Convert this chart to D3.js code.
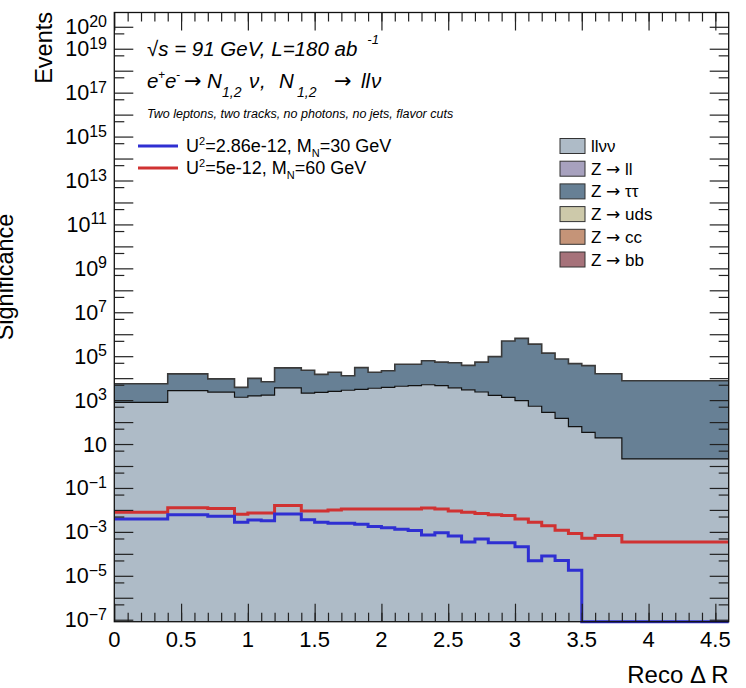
<!DOCTYPE html>
<html>
<head>
<meta charset="utf-8">
<script src="https://cdn.jsdelivr.net/npm/d3@7"></script>
<style>
  body { margin: 0; background: white; }
  text { font-family: "Liberation Sans", Arial, sans-serif; }
  .arrow { font-family: "DejaVu Sans", sans-serif; font-style: normal; }
</style>
</head>
<body>
<svg></svg>
<script>
// bins are 0.1 wide, 0 .. 4.6
var binLow = d3.range(46).map(function(i) { return i / 10; });
var xMaxEdge = 4.6;

// stacked backgrounds (events / bin)
var llvv = [790, 790, 790, 790, 2700, 2700, 2700, 2300, 2300, 1350,
            1550, 1700, 3600, 3600, 2100, 2240, 2510, 2820, 3090, 3470,
            3800, 4270, 4570, 5010, 4570, 3630, 2950, 2340, 1660, 1320,
            950, 525, 275, 148, 62, 34, 19, 19, 2.1, 2.1,
            2.1, 2.1, 2.1, 2.1, 2.1, 2.1];
var ztautau = [4800, 4800, 4800, 4800, 13000, 13000, 13000, 7000, 7000, 2450,
               8200, 5200, 25900, 25900, 20800, 12600, 16100, 10100, 27100, 15200,
               18100, 38400, 38100, 56600, 49100, 46500, 35100, 51400, 93800, 488000,
               645000, 354000, 138000, 74000, 45600, 37100, 15800, 15800, 7580, 7580,
               7580, 7580, 7580, 7580, 7580, 7580];

// signals
var sigM30 = [0.0039, 0.0039, 0.0039, 0.0039, 0.0060, 0.0060, 0.0060, 0.0052, 0.0052, 0.00275,
              0.0035, 0.0032, 0.0065, 0.0065, 0.0036, 0.00275, 0.00245, 0.00245, 0.0022, 0.00178,
              0.00155, 0.00132, 0.00115, 0.00072, 0.00091, 0.00065, 0.00035, 0.00047, 0.00032, 0.00032,
              0.00021, 0.000049, 0.000079, 0.00005, 0.0000178, 0, 0, 0, 0, 0,
              0, 0, 0, 0, 0, 0];
var sigM60 = [0.0078, 0.0078, 0.0078, 0.0078, 0.0126, 0.0126, 0.0126, 0.0115, 0.0115, 0.0063,
              0.0072, 0.0072, 0.0158, 0.0158, 0.0089, 0.0089, 0.0100, 0.0110, 0.0110, 0.0110,
              0.0110, 0.0110, 0.0110, 0.0123, 0.0110, 0.0089, 0.0078, 0.0068, 0.0060, 0.0055,
              0.0039, 0.00275, 0.0019, 0.0012, 0.00085, 0.00051, 0.00068, 0.00068, 0.00035, 0.00035,
              0.00035, 0.00035, 0.00035, 0.00035, 0.00035, 0.00035];

var xTickLabels = [0, 0.5, 1, 1.5, 2, 2.5, 3, 3.5, 4, 4.5];
var yLabelExp = [20, 19, 17, 15, 13, 11, 9, 7, 5, 3, 1, -1, -3, -5, -7];

var legendNames = ["llνν", "Z → ll", "Z → ττ", "Z → uds", "Z → cc", "Z → bb"];
var legendColors = ["#aebbc7", "#a7a1be", "#678095", "#cdc9aa", "#c59478", "#a6727a"];

var svgWidth = 746, svgHeight = 688;
var padL = 114.3, padR = 728.7, padT = 12.5, padB = 621.7;

var svg = d3.select('svg')
    .attr('width', svgWidth)
    .attr('height', svgHeight);

svg.append("rect")
    .attr("width", "100%")
    .attr("height", "100%")
    .attr("fill", "white");

var xScale = d3.scaleLinear()
    .domain([0, xMaxEdge])
    .range([padL, padR]);

var yScale = d3.scaleLog()
    .domain([Math.pow(10, -7.09), Math.pow(10, 20.65)])
    .range([padB, padT])
    .clamp(true);

// stack
var rows = binLow.map(function(b, i) { return {x: b, llvv: llvv[i], ztautau: ztautau[i]}; });
var stacked = d3.stack().keys(["llvv", "ztautau"])(rows);

function stepPts(layer) {
    var pts = layer.map(function(d) { return {x: d.data.x, y0: d[0], y1: d[1]}; });
    var last = pts[pts.length - 1];
    pts.push({x: xMaxEdge, y0: last.y0, y1: last.y1});
    return pts;
}

var area = d3.area()
    .curve(d3.curveStepAfter)
    .x(function(d) { return xScale(d.x); })
    .y0(function(d) { return yScale(d.y0); })
    .y1(function(d) { return yScale(d.y1); });

var topLine = d3.line()
    .curve(d3.curveStepAfter)
    .x(function(d) { return xScale(d.x); })
    .y(function(d) { return yScale(d.y1); });

var plot = svg.append("g");

// draw tautau (top) then llvv
plot.append("path")
    .attr("d", area(stepPts(stacked[1])))
    .attr("fill", legendColors[2]);
plot.append("path")
    .attr("d", area(stepPts(stacked[0])))
    .attr("fill", legendColors[0]);
plot.append("path")
    .attr("d", topLine(stepPts(stacked[1])))
    .attr("fill", "none")
    .style("stroke", "#3a3a3a")
    .style("stroke-width", "1.6");
plot.append("path")
    .attr("d", topLine(stepPts(stacked[0])))
    .attr("fill", "none")
    .style("stroke", "#111")
    .style("stroke-width", "1.2");

// signals
var sigLine = d3.line()
    .curve(d3.curveStepAfter)
    .x(function(d) { return xScale(d.x); })
    .y(function(d) { return yScale(d.v); });

function sigPts(arr) {
    var pts = binLow.map(function(b, i) { return {x: b, v: arr[i]}; });
    pts.push({x: xMaxEdge, v: arr[arr.length - 1]});
    return pts;
}

plot.append("path")
    .attr("d", sigLine(sigPts(sigM60)))
    .attr("fill", "none")
    .style("stroke", "#d03232")
    .style("stroke-width", "3");
plot.append("path")
    .attr("d", sigLine(sigPts(sigM30)))
    .attr("fill", "none")
    .style("stroke", "#2f2fd2")
    .style("stroke-width", "3");

// axes ticks
var majorX = d3.range(0, 4.6, 0.5);
var minorX = d3.range(46).map(function(i) { return i / 10; }).filter(function(v) { return v > 0; });

function styleAxis(g) {
    g.select(".domain").remove();
    g.selectAll("text").remove();
    g.selectAll("line").style("stroke", "#222").style("stroke-width", "1.2");
}

svg.append("g")
    .attr("transform", "translate(0," + padB + ")")
    .call(d3.axisBottom(xScale).tickValues(minorX).tickSize(-9))
    .call(styleAxis);
svg.append("g")
    .attr("transform", "translate(0," + padB + ")")
    .call(d3.axisBottom(xScale).tickValues(majorX).tickSize(-18))
    .call(styleAxis);
svg.append("g")
    .attr("transform", "translate(0," + padT + ")")
    .call(d3.axisTop(xScale).tickValues(minorX).tickSize(-9))
    .call(styleAxis);
svg.append("g")
    .attr("transform", "translate(0," + padT + ")")
    .call(d3.axisTop(xScale).tickValues(majorX).tickSize(-18))
    .call(styleAxis);

var decades = d3.range(-7, 21).map(function(e) { return Math.pow(10, e); });
var halfDecades = d3.range(-6, 21).map(function(e) { return 0.5 * Math.pow(10, e); });

[[padL, d3.axisLeft], [padR, d3.axisRight]].forEach(function(s) {
    svg.append("g")
        .attr("transform", "translate(" + s[0] + ",0)")
        .call(s[1](yScale).tickValues(decades).tickSize(-19))
        .call(styleAxis);
    svg.append("g")
        .attr("transform", "translate(" + s[0] + ",0)")
        .call(s[1](yScale).tickValues(halfDecades).tickSize(-10))
        .call(styleAxis);
});

// frame
svg.append("rect")
    .attr("x", padL).attr("y", padT)
    .attr("width", padR - padL).attr("height", padB - padT)
    .attr("fill", "none")
    .style("stroke", "#111")
    .style("stroke-width", "1.3");

// x tick labels
svg.selectAll(".xlab").data(xTickLabels).enter().append("text")
    .attr("class", "xlab")
    .attr("x", function(d) { return xScale(d); })
    .attr("y", 647)
    .attr("text-anchor", "middle")
    .style("font-size", "22px")
    .text(function(d) { return String(d); });

// y tick labels
var ylab = svg.selectAll(".ylab").data(yLabelExp).enter().append("text")
    .attr("class", "ylab")
    .attr("x", 107)
    .attr("y", function(d) { return yScale(Math.pow(10, d)) + 7.5; })
    .attr("text-anchor", "end")
    .style("font-size", "21.5px");
ylab.append("tspan").text("10");
ylab.filter(function(d) { return d !== 1; }).append("tspan")
    .attr("dy", -7.5)
    .style("font-size", "16px")
    .text(function(d) { return d < 0 ? "\u2212" + (-d) : String(d); });

// axis titles
svg.append("text")
    .attr("transform", "translate(52,12) rotate(-90)")
    .attr("text-anchor", "end")
    .style("font-size", "23.5px")
    .text("Events");
svg.append("text")
    .attr("transform", "translate(13,277) rotate(-90)")
    .attr("text-anchor", "middle")
    .style("font-size", "23.5px")
    .text("Significance");
svg.append("text")
    .attr("x", 728.7).attr("y", 683)
    .attr("text-anchor", "end")
    .style("font-size", "24px")
    .text("Reco Δ R");

// header text
var t1 = svg.append("text").attr("x", 147).attr("y", 56)
    .style("font-size", "20.5px").style("font-style", "italic");
t1.append("tspan").text("√s = 91 GeV, L=180 ab");
t1.append("tspan").attr("dx", 10).attr("dy", -12).style("font-size", "13px").text("-1");

// line 2 pieces: [text, x, baseline, size, arrow?]
var line2 = [
    ["e", 147, 88, 20.5], ["+", 158, 79, 12], ["e", 165, 88, 20.5], ["-", 176, 79, 12],
    ["→", 184, 88, 21, true], ["N", 207, 88, 20.5], ["1,2", 222, 97, 14],
    ["ν", 249, 88, 20.5], [",", 260, 88, 20.5], ["N", 279, 88, 20.5], ["1,2", 297, 97, 14],
    ["→", 334, 88, 21, true], ["ll", 361, 88, 20.5], ["ν", 371, 88, 20.5]
];
var t2 = svg.append("text").style("font-style", "italic");
line2.forEach(function(p) {
    t2.append("tspan")
        .attr("x", p[1]).attr("y", p[2])
        .attr("class", p[4] ? "arrow" : null)
        .style("font-size", p[3] + "px")
        .text(p[0]);
});

svg.append("text").attr("x", 147).attr("y", 118)
    .style("font-size", "12.5px").style("font-style", "italic")
    .text("Two leptons, two tracks, no photons, no jets, flavor cuts");

// signal legend
var sigLegend = [
    {color: "#2f2fd2", u: "=2.86e-12, M", m: "=30 GeV"},
    {color: "#d03232", u: "=5e-12, M", m: "=60 GeV"}
];
sigLegend.forEach(function(s, i) {
    var yy = 146 + i * 22;
    svg.append("line")
        .attr("x1", 138).attr("x2", 178)
        .attr("y1", yy).attr("y2", yy)
        .style("stroke", s.color).style("stroke-width", "3");
    var t = svg.append("text").attr("x", 186).attr("y", yy + 6).style("font-size", "18px");
    t.append("tspan").text("U");
    t.append("tspan").attr("dy", -7).style("font-size", "11px").text("2");
    t.append("tspan").attr("dy", 7).text(s.u);
    t.append("tspan").attr("dy", 5).style("font-size", "11px").text("N");
    t.append("tspan").attr("dy", -5).text(s.m);
});

// background legend
legendNames.forEach(function(name, i) {
    var yy = 146 + i * 22.7;
    svg.append("rect")
        .attr("x", 560).attr("y", yy - 7.5)
        .attr("width", 25).attr("height", 15)
        .attr("fill", legendColors[i])
        .style("stroke", "#333").style("stroke-width", "1");
    var t = svg.append("text")
        .attr("x", 591).attr("y", yy + 6)
        .style("font-size", "17px");
    var parts = name.split("→");
    t.append("tspan").text(parts[0]);
    if (parts.length > 1) {
        t.append("tspan").attr("class", "arrow").style("font-size", "17px").text("→");
        t.append("tspan").text(parts[1]);
    }
});
</script>
</body>
</html>
